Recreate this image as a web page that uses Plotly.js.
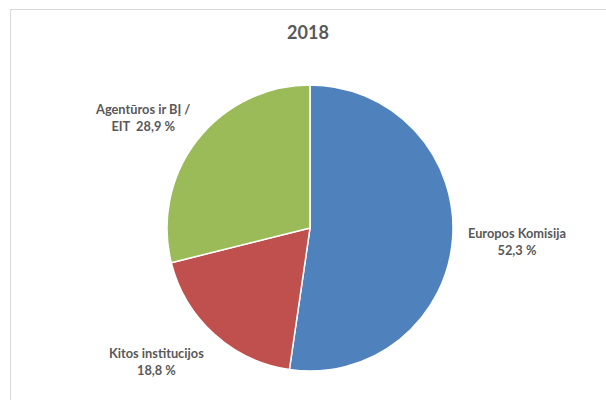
<!DOCTYPE html>
<html>
<head>
<meta charset="utf-8">
<script src="https://cdn.plot.ly/plotly-3.0.1.min.js"></script>
<style>
  html, body { margin: 0; padding: 0; background: #fff; }
  #wrap { position: relative; width: 606px; height: 400px; overflow: hidden; }
  #frame { position: absolute; left: 10px; top: 9px; width: 700px; height: 500px;
           border-left: 1px solid #d9d9d9; border-top: 1px solid #d9d9d9; pointer-events: none; }
  #chart { position: absolute; left: 0; top: 0; width: 606px; height: 400px; }
</style>
</head>
<body>
<div id="wrap">
  <div id="chart"></div>
  <div id="frame"></div>
</div>
<script>
const chartTitle = "2018";
const categories = ["Europos Komisija", "Kitos institucijos", "Agentūros ir BĮ / EIT"];
const labelTexts = ["Europos Komisija<br>52,3 %", "Kitos institucijos<br>18,8 %", "Agentūros ir BĮ /<br>EIT  28,9 %"];
const shares = [52.3, 18.8, 28.9];
const colors = ["#4F81BD", "#C0504D", "#9BBB59"];

const FONT = "Lato, 'Open Sans', sans-serif";
const TXT = "#595959";

const trace = {
  type: "pie",
  labels: categories,
  values: shares,
  sort: false,
  direction: "clockwise",
  rotation: 0,
  textinfo: "none",
  hoverinfo: "label+percent",
  marker: { colors: colors, line: { color: "#ffffff", width: 1.5 } },
  domain: { x: [167/606, 453/606], y: [29/400, 315/400] },
  showlegend: false
};

const labelPos = [
  { x: 517/606, y: 1 - 241/400 },
  { x: 156/606, y: 1 - 361/400 },
  { x: 142/606, y: 1 - 118/400 }
];

const annotations = labelTexts.map((t, i) => ({
  text: "<b>" + t + "</b>",
  xref: "paper", yref: "paper",
  x: labelPos[i].x, y: labelPos[i].y,
  xanchor: "center", yanchor: "middle",
  showarrow: false, align: "center",
  font: { family: FONT, size: 12.8, color: TXT }
}));

const layout = {
  width: 606, height: 400,
  margin: { l: 0, r: 0, t: 0, b: 0 },
  paper_bgcolor: "#ffffff",
  title: { text: "<b>" + chartTitle + "</b>", x: 308/606, xanchor: "center", y: 1 - 33/400, yanchor: "middle",
           font: { family: FONT, size: 18, color: TXT } },
  annotations: annotations
};

Plotly.newPlot("chart", [trace], layout, { displayModeBar: false, staticPlot: true });
</script>
</body>
</html>
